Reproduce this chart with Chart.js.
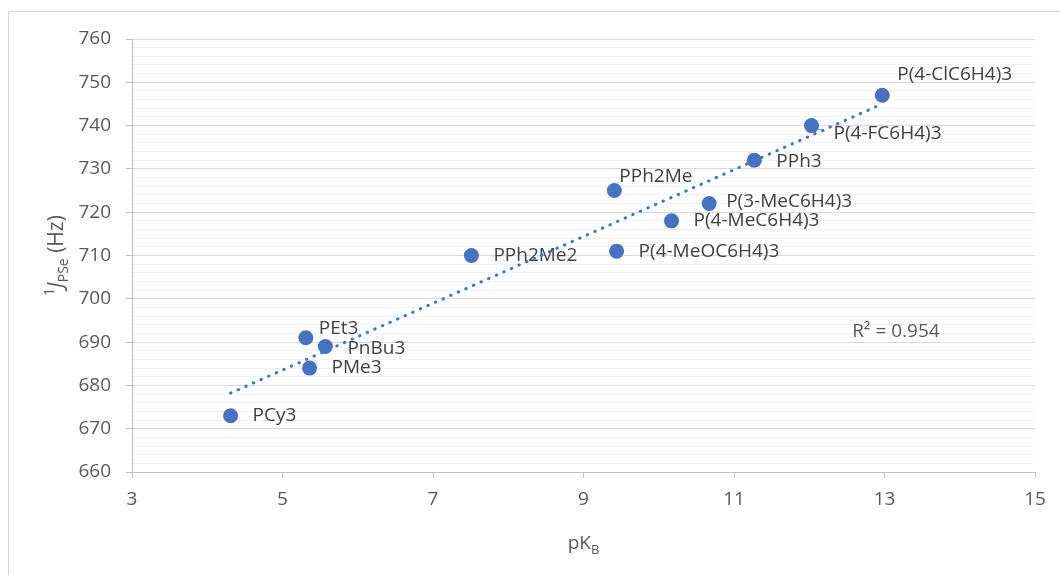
<!DOCTYPE html>
<html>
<head>
<meta charset="utf-8">
<script src="https://cdn.jsdelivr.net/npm/chart.js@4.4.1/dist/chart.umd.min.js"></script>
<style>
  html, body { margin: 0; padding: 0; background: #fff; }
  #wrap { width: 1060px; height: 575px; }
</style>
</head>
<body>
<div id="wrap"><canvas id="pkb_chart" width="1060" height="575"></canvas></div>
<script>
//  Données
var ligands = ["PCy3", "PEt3", "PnBu3", "PMe3", "PPh2Me2", "PPh2Me",
  "P(4-MeOC6H4)3", "P(4-MeC6H4)3", "P(3-MeC6H4)3", "PPh3", "P(4-FC6H4)3", "P(4-ClC6H4)3"];
var pkb = [4.31, 5.31, 5.57, 5.36, 7.51, 9.41, 9.44, 10.17, 10.67, 11.27, 12.03, 12.97];
var jpse = [673, 691, 689, 684, 710, 725, 711, 718, 722, 732, 740, 747];
var xTicks = [3, 5, 7, 9, 11, 13, 15];
var yTicks = [660, 670, 680, 690, 700, 710, 720, 730, 740, 750, 760];
var r2Text = "R² = 0.954";

//  Décalage des étiquettes (px) par rapport au point
var labelOffsets = [[22, 0], [13, -9], [22, 2], [22, 0], [22, 0], [5, -14],
  [22, 0], [22, 0], [17, -2], [22, 1], [22, 8], [15, -21]];

var FONT = "'Open Sans', 'Noto Sans', sans-serif";
var blue = "#4472C4";

//  Courbe de tendance linéaire (moindres carrés)
var n = pkb.length, sx = 0, sy = 0, sxx = 0, sxy = 0;
for (var i = 0; i < n; i++) {
  sx += pkb[i]; sy += jpse[i];
  sxx += pkb[i] * pkb[i]; sxy += pkb[i] * jpse[i];
}
var slope = (n * sxy - sx * sy) / (n * sxx - sx * sx);
var inter = (sy - slope * sx) / n;
var xMin = Math.min.apply(null, pkb), xMax = Math.max.apply(null, pkb);
var trend = [
  {x: xMin, y: inter + slope * xMin},
  {x: xMax, y: inter + slope * xMax}
];

var points = pkb.map(function (v, i) { return {x: v, y: jpse[i]}; });

var decorPlugin = {
  id: "decor",
  beforeDraw: function (chart) {
    var c = chart.ctx;
    c.save();
    c.fillStyle = "#fff";
    c.fillRect(0, 0, chart.width, chart.height);
    c.strokeStyle = "#d9d9d9";
    c.lineWidth = 1;
    c.strokeRect(8.5, 11.5, chart.width + 20, chart.height + 20);
    c.restore();
  },
  beforeDatasetsDraw: function (chart) {
    var c = chart.ctx;
    var meta = chart.getDatasetMeta(1);
    c.save();
    c.font = "19px " + FONT;
    c.fillStyle = "#404040";
    c.textBaseline = "middle";
    c.textAlign = "left";
    meta.data.forEach(function (pt, i) {
      var off = labelOffsets[i];
      c.fillText(ligands[i], pt.x + off[0], pt.y + off[1]);
    });
    // trait de rappel pour P(4-FC6H4)3
    var f = meta.data[10];
    c.strokeStyle = "#a6a6a6";
    c.lineWidth = 1;
    c.beginPath();
    c.moveTo(f.x + 2, f.y + 2);
    c.lineTo(f.x + 14, f.y + 6);
    c.stroke();
    c.restore();
  },
  afterDraw: function (chart) {
    var c = chart.ctx;
    var area = chart.chartArea;
    var xs = chart.scales.x, ys = chart.scales.y;
    c.save();
    c.fillStyle = "#595959";
    c.textBaseline = "alphabetic";

    // R²
    c.font = "19px " + FONT;
    c.textAlign = "left";
    c.fillText(r2Text, xs.getPixelForValue(12.57), ys.getPixelForValue(692.8) + 7);

    // titre axe x : pK_B
    var big = "19px " + FONT, small = "13px " + FONT;
    c.font = big; var w1 = c.measureText("pK").width;
    c.font = small; var w2 = c.measureText("B").width;
    var x0 = (area.left + area.right) / 2 - (w1 + w2) / 2;
    var base = 549;
    c.font = big; c.fillText("pK", x0, base);
    c.font = small; c.fillText("B", x0 + w1, base + 5);

    // titre axe y : 1J_PSe (Hz)
    var parts = [
      {t: "1", f: "14px " + FONT, dy: -9},
      {t: "J", f: "italic 21px " + FONT, dy: 0},
      {t: "PSe", f: "14px " + FONT, dy: 5},
      {t: " (Hz)", f: "21px " + FONT, dy: 0}
    ];
    var total = 0;
    parts.forEach(function (p) { c.font = p.f; p.w = c.measureText(p.t).width; total += p.w; });
    c.translate(63, (area.top + area.bottom) / 2);
    c.rotate(-Math.PI / 2);
    var px = -total / 2;
    parts.forEach(function (p) {
      c.font = p.f;
      c.fillText(p.t, px, p.dy);
      px += p.w;
    });
    c.restore();
  }
};

var ctx = document.getElementById("pkb_chart");
var chart = new Chart(ctx, {
  type: "scatter",
  data: {
    datasets: [
      {
        type: "line",
        label: "Tendance",
        data: trend,
        borderColor: blue,
        borderWidth: 3,
        borderDash: [0.5, 7.8],
        borderCapStyle: "round",
        pointRadius: 0,
        fill: false
      },
      {
        label: "pKB",
        data: points,
        backgroundColor: blue,
        borderColor: blue,
        pointRadius: 7.5,
        pointHoverRadius: 7.5,
        borderWidth: 0
      }
    ]
  },
  options: {
    responsive: false,
    animation: false,
    layout: { padding: { top: 39, right: 25, left: 0, bottom: 0 } },
    plugins: {
      legend: { display: false },
      tooltip: { enabled: false }
    },
    scales: {
      x: {
        type: "linear",
        min: 3,
        max: 15,
        afterBuildTicks: function (scale) {
          scale.ticks = xTicks.map(function (v) { return {value: v}; });
        },
        afterFit: function (scale) { scale.height = 103; },
        grid: {
          drawOnChartArea: false,
          drawTicks: true,
          tickLength: 6,
          tickColor: "#bfbfbf"
        },
        border: { color: "#bfbfbf", width: 1 },
        ticks: {
          color: "#595959",
          font: { family: FONT, size: 19 },
          padding: 10,
          maxRotation: 0
        }
      },
      y: {
        min: 660,
        max: 760,
        afterFit: function (scale) { scale.width = 132; },
        grid: {
          color: function (c) {
            return c.tick && c.tick.value % 10 === 0 ? "#d9d9d9" : "#f2f2f2";
          },
          tickColor: function (c) {
            return c.tick && c.tick.value % 10 === 0 ? "#bfbfbf" : "rgba(0,0,0,0)";
          },
          tickLength: 6,
          lineWidth: 1
        },
        border: { color: "#bfbfbf", width: 1 },
        ticks: {
          stepSize: 2,
          autoSkip: false,
          color: "#595959",
          font: { family: FONT, size: 19 },
          padding: 15,
          callback: function (v) { return yTicks.indexOf(v) >= 0 ? v : ""; }
        }
      }
    }
  },
  plugins: [decorPlugin]
});
</script>
</body>
</html>
